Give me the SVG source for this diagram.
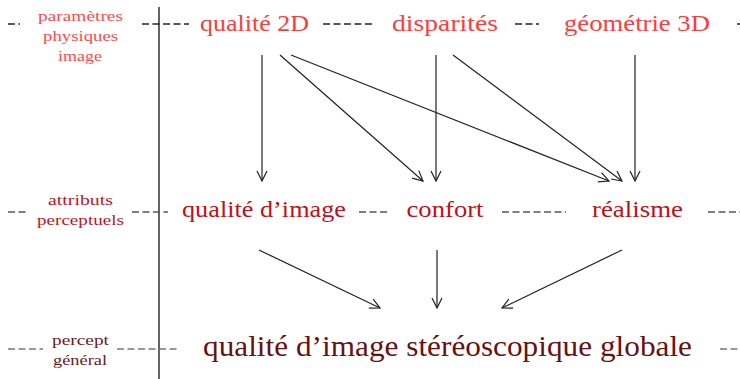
<svg xmlns="http://www.w3.org/2000/svg" width="740" height="379" viewBox="0 0 740 379">
<defs>
<marker id="ah" viewBox="0 0 12 12" refX="11" refY="6" markerWidth="12" markerHeight="12" markerUnits="userSpaceOnUse" orient="auto">
<path d="M1,1 L11,6 L1,11" fill="none" stroke="#222" stroke-width="1.2"/>
</marker>
<style>
text{font-family:"Liberation Serif","DejaVu Serif",serif;text-anchor:middle}
.r1{fill:#ff3c3c;font-size:24px}
.r2{fill:#c0101a;font-size:23px}
.r3{fill:#6b1010;font-size:29px}
.l1{fill:#ff4a4a;font-size:15px}
.l2{fill:#c0141c;font-size:15px}
.l3{fill:#6b1a1a;font-size:15px}
.d1{stroke:#222;stroke-width:1.3;stroke-dasharray:7 3.5;fill:none}
.d2{stroke:#555;stroke-width:1.3;stroke-dasharray:7 3.5;fill:none}
.d3{stroke:#777;stroke-width:1.3;stroke-dasharray:7 3.5;fill:none}
.a{stroke:#222;stroke-width:1.2;fill:none;marker-end:url(#ah)}
</style>
</defs>
<rect width="740" height="379" fill="#fff"/>
<line x1="159" y1="7" x2="159" y2="379" stroke="#222" stroke-width="1.4"/>
<g id="dashes">
<path class="d1" d="M8,24H20M142,24H189M323,24H375M515,24H539M737,24H740"/>
<path class="d2" d="M8,212H29M132,212H168M359,212H388M502,212H566M708,212H740"/>
<path class="d3" d="M8,349H43M117,349H177M720,349H740"/>
</g>
<g id="label-parametres">
<text class="l1" x="80.5" y="21" textLength="85" lengthAdjust="spacingAndGlyphs">paramètres</text>
<text class="l1" x="80.5" y="41" textLength="75" lengthAdjust="spacingAndGlyphs">physiques</text>
<text class="l1" x="80" y="61" textLength="44" lengthAdjust="spacingAndGlyphs">image</text>
</g>
<g id="label-attributs">
<text class="l2" x="80.5" y="205" textLength="65" lengthAdjust="spacingAndGlyphs">attributs</text>
<text class="l2" x="80.5" y="225" textLength="87" lengthAdjust="spacingAndGlyphs">perceptuels</text>
</g>
<g id="label-percept">
<text class="l3" x="80.5" y="345" textLength="57" lengthAdjust="spacingAndGlyphs">percept</text>
<text class="l3" x="80" y="365" textLength="54" lengthAdjust="spacingAndGlyphs">général</text>
</g>
<g id="n-qualite2d"><text class="r1" x="254.5" y="31" textLength="109" lengthAdjust="spacingAndGlyphs">qualité 2D</text></g>
<g id="n-disparites"><text class="r1" x="445" y="31" textLength="106" lengthAdjust="spacingAndGlyphs">disparités</text></g>
<g id="n-geometrie"><text class="r1" x="637" y="31" textLength="146" lengthAdjust="spacingAndGlyphs">géométrie 3D</text></g>
<g id="n-qualiteimage"><text class="r2" x="264" y="217" textLength="164" lengthAdjust="spacingAndGlyphs">qualité d’image</text></g>
<g id="n-confort"><text class="r2" x="445" y="217" textLength="77" lengthAdjust="spacingAndGlyphs">confort</text></g>
<g id="n-realisme"><text class="r2" x="637.5" y="217" textLength="91" lengthAdjust="spacingAndGlyphs">réalisme</text></g>
<g id="n-global"><text class="r3" x="447.5" y="356" textLength="489" lengthAdjust="spacingAndGlyphs">qualité d’image stéréoscopique globale</text></g>
<g id="connectors">
<line class="a" x1="262" y1="55" x2="262" y2="181"/>
<line class="a" x1="280" y1="55" x2="423" y2="181"/>
<line class="a" x1="291" y1="55" x2="609" y2="181"/>
<line class="a" x1="436" y1="55" x2="436" y2="181"/>
<line class="a" x1="453" y1="55" x2="622" y2="181"/>
<line class="a" x1="635" y1="55" x2="635" y2="181"/>
<line class="a" x1="259" y1="250" x2="380" y2="308"/>
<line class="a" x1="437" y1="250" x2="437" y2="308"/>
<line class="a" x1="622" y1="250" x2="502" y2="308"/>
</g>
</svg>
